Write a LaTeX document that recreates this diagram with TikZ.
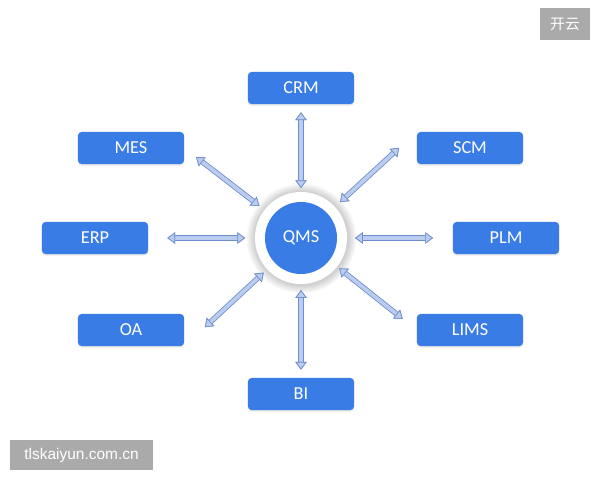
\documentclass[tikz,border=0pt]{standalone}
\usepackage{fontspec}
\setmainfont{Carlito}
\newfontfamily\cjkfont{Noto Sans CJK SC}
\newfontfamily\sitefont{Liberation Sans}
\usetikzlibrary{arrows.meta,shadows}
\definecolor{boxblue}{RGB}{58,124,230}
\definecolor{arrowfill}{RGB}{186,205,240}
\definecolor{arrowedge}{RGB}{112,142,205}
\definecolor{taggray}{RGB}{170,170,170}

\begin{document}
\begin{tikzpicture}[x=0.025cm,y=-0.025cm,
  sysbox/.style={fill=boxblue,text=white,rounded corners=2.5pt,minimum width=2.65cm,minimum height=0.8cm,
    font=\fontsize{13}{15}\selectfont,drop shadow={shadow xshift=0pt,shadow yshift=-1.2pt,opacity=0.18}},
  ring/.style={circle,fill=white,minimum size=2.3cm,inner sep=0pt,outer sep=0pt,
    circular glow={fill=black!18,shadow scale=1.2}},
  hub/.style={circle,fill=boxblue,text=white,minimum size=1.8cm,inner sep=0pt,font=\fontsize{13}{15}\selectfont},
  link/.style={draw=arrowfill,line width=2.6pt,
    >={Triangle[width=8pt,length=5.5pt,line width=0.5pt,fill=arrowfill,color=arrowedge]},<->,
    preaction={draw=arrowedge,line width=3.8pt,<->}},
  tagbox/.style={fill=taggray,text=white,inner sep=0pt}]
\fill[white] (0,0) rectangle (600,480);
\useasboundingbox (0,0) rectangle (600,480);

\node[ring] (qms) at (301,238) {};
\node[hub] (qmscore) at (qms) {QMS};

\node[sysbox] (crm) at (301,88) {CRM};
\node[sysbox] (mes) at (131,148) {MES};
\node[sysbox] (scm) at (470,148) {SCM};
\node[sysbox] (erp) at (95,238) {ERP};
\node[sysbox] (plm) at (506,238) {PLM};
\node[sysbox] (oa) at (131,330) {OA};
\node[sysbox] (lims) at (470,330) {LIMS};
\node[sysbox] (bi) at (301,394) {BI};

\draw[link,shorten <=5.7pt,shorten >=2.8pt] (crm) -- (qms);
\draw[link,shorten <=5.7pt,shorten >=4.3pt] (bi) -- (qms);
\draw[link,shorten <=13.5pt,shorten >=7pt] (erp) -- (qms);
\draw[link,shorten <=14pt,shorten >=5.7pt] (plm) -- (qms);
\draw[link,shorten <=10.6pt,shorten >=4.7pt] (mes.east) -- (qms);
\draw[link,shorten <=17pt,shorten >=5pt] (scm.north west) -- (qms);
\draw[link,shorten <=20pt,shorten >=3.5pt] (oa.south east) -- (qms);
\draw[link,shorten <=12.8pt,shorten >=2pt] (lims.west) -- (qms);

\node[tagbox,minimum width=1.25cm,minimum height=0.8cm,font=\cjkfont\fontsize{10.5}{12}\selectfont] (tagname) at (565,24) {开云};
\node[tagbox,minimum width=3.575cm,minimum height=0.75cm,font=\sitefont\fontsize{11}{13}\selectfont] (tagsite) at (81.5,455) {tlskaiyun.com.cn};
\end{tikzpicture}
\end{document}
